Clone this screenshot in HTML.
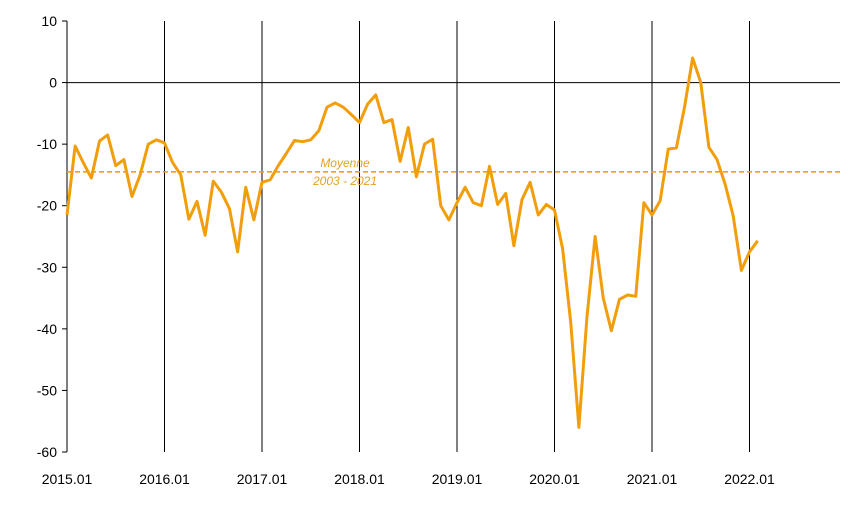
<!DOCTYPE html>
<html><head><meta charset="utf-8"><style>
body{margin:0;background:#fff}
svg{display:block;font-family:"Liberation Sans",Arial,sans-serif}
</style></head><body>
<svg id="chart" width="848" height="511" viewBox="0 0 848 511" xmlns="http://www.w3.org/2000/svg">
<g id="grid"></g>
<g id="axes"></g>
<g id="series"></g>
</svg>
<script>
const values = [-21.5,-10.3,-13,-15.5,-9.5,-8.5,-13.5,-12.5,-18.5,-15,-10,-9.3,
-9.8,-13,-15,-22.2,-19.3,-24.8,-16,-17.8,-20.5,-27.5,-17,-22.3,
-16.2,-15.8,-13.5,-11.5,-9.4,-9.6,-9.3,-7.8,-4,-3.3,-4,-5.2,
-6.5,-3.5,-2,-6.5,-6,-12.8,-7.3,-15.3,-10,-9.2,-20,-22.3,
-19.5,-17,-19.5,-20,-13.6,-19.8,-18,-26.5,-19,-16.2,-21.5,-19.8,
-20.7,-27,-39,-56,-38,-25,-35,-40.3,-35.2,-34.5,-34.7,-19.5,
-21.5,-19.2,-10.8,-10.6,-4,4,0,-10.5,-12.5,-16.5,-21.7,-30.5,
-27.5,-25.7];
const yTicks = [10,0,-10,-20,-30,-40,-50,-60];
const xLabels = ["2015.01","2016.01","2017.01","2018.01","2019.01","2020.01","2021.01","2022.01"];
const meanValue = -14.5;
const meanLabel = ["Moyenne","2003 - 2021"];

const NS="http://www.w3.org/2000/svg";
const x0=67, monthW=8.125, yTop=21, yBot=452, yMax=10, yMin=-60, xRight=840;
const xs=i=>x0+i*monthW;
const ys=v=>yTop+(yMax-v)/(yMax-yMin)*(yBot-yTop);
function mk(tag,attrs,parent,text){const e=document.createElementNS(NS,tag);for(const k in attrs)e.setAttribute(k,attrs[k]);if(text!==undefined)e.textContent=text;parent.appendChild(e);return e;}
const grid=document.getElementById('grid'),axes=document.getElementById('axes'),series=document.getElementById('series');

xLabels.forEach((lab,k)=>{
  const x=xs(k*12);
  if(k>0){const l=mk('line',{x1:x,x2:x,y1:yTop,y2:yBot,stroke:'#000','stroke-width':1},grid);
  
  }
  const t=mk('text',{x:x,y:484,'text-anchor':'middle','font-size':14,fill:'#000'},axes,lab);
  
  
});
const zl=mk('line',{x1:x0,x2:xRight,y1:ys(0),y2:ys(0),stroke:'#000','stroke-width':1},grid);


const ya=mk('line',{x1:x0,x2:x0,y1:yTop,y2:yBot,stroke:'#000','stroke-width':1},axes);


yTicks.forEach(v=>{
  const y=ys(v);
  const tk=mk('line',{x1:x0-5,x2:x0,y1:y,y2:y,stroke:'#000','stroke-width':1},axes);
  
  
  const t=mk('text',{x:57,y:y+5,'text-anchor':'end','font-size':14,fill:'#000'},axes,String(v));
  
  
});
const ml=mk('line',{x1:x0,x2:xRight,y1:ys(meanValue),y2:ys(meanValue),stroke:'#e8a020','stroke-width':1.6,'stroke-dasharray':'5,3'},series);


const t1=mk('text',{x:345,y:ys(meanValue)-5,'text-anchor':'middle','font-size':12,'font-style':'italic',fill:'#e8a020'},series,meanLabel[0]);


const t2=mk('text',{x:345,y:ys(meanValue)+13,'text-anchor':'middle','font-size':12,'font-style':'italic',fill:'#e8a020'},series,meanLabel[1]);


const pts=values.map((v,i)=>xs(i).toFixed(2)+','+ys(v).toFixed(2)).join(' ');
const pl=mk('polyline',{points:pts,fill:'none',stroke:'#f29e0c','stroke-width':3,'stroke-linejoin':'round'},series);


</script>
</body></html>
